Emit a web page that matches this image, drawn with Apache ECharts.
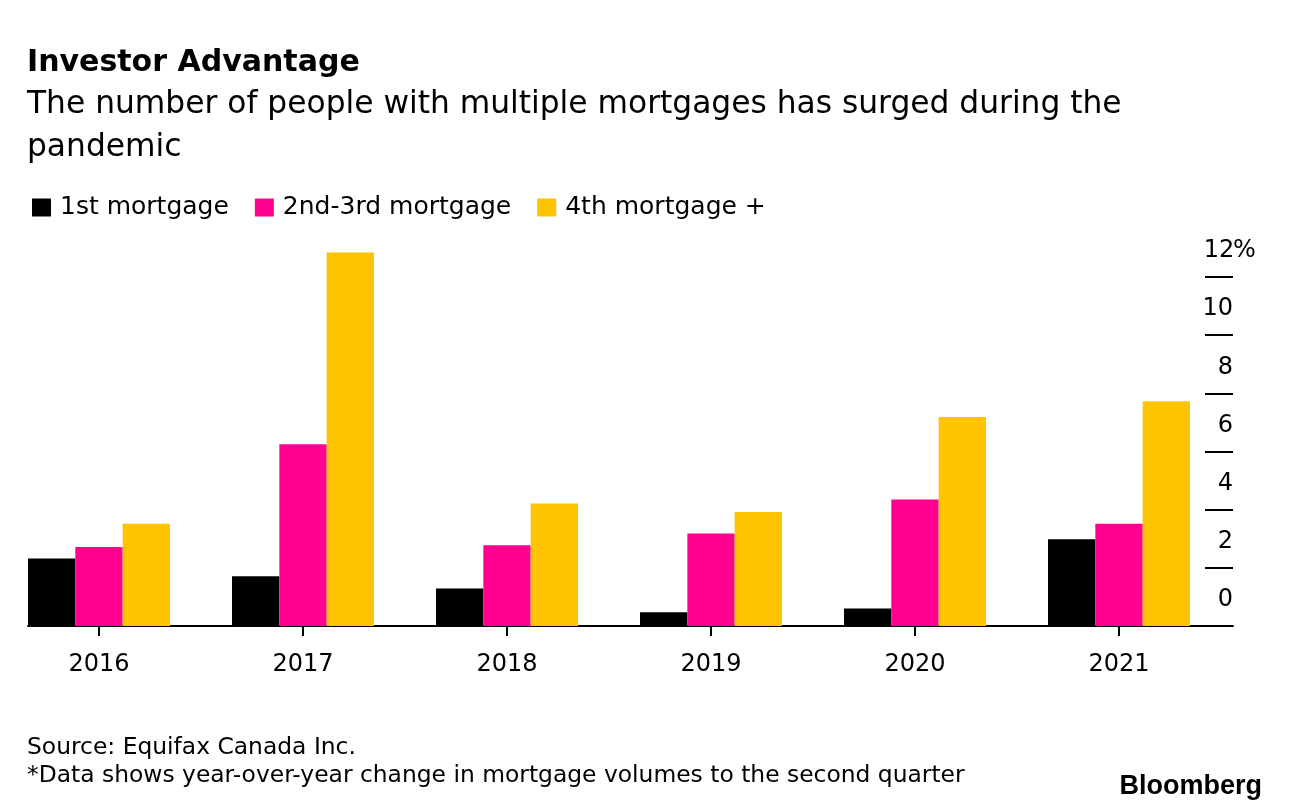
<!DOCTYPE html>
<html>
<head>
<meta charset="utf-8">
<style>
  html, body { margin: 0; padding: 0; background: #fff; }
  #chart { width: 1289px; height: 812px; }
</style>
<script src="https://cdn.jsdelivr.net/npm/echarts@6/dist/echarts.min.js"></script>
</head>
<body>
<div id="chart"></div>
<script>
const categories = ['2016', '2017', '2018', '2019', '2020', '2021'];
const firstMortgage = [2.32, 1.71, 1.29, 0.47, 0.60, 2.98];
const secondThirdMortgage = [2.72, 6.25, 2.78, 3.18, 4.35, 3.52];
const fourthPlusMortgage = [3.52, 12.84, 4.21, 3.92, 7.19, 7.73];
const seriesNames = ['1st mortgage', '2nd-3rd mortgage', '4th mortgage +'];
const yTickValues = [0, 2, 4, 6, 8, 10, 12];

const FONT = 'DejaVu Sans';
const colors = ['#000000', '#ff0090', '#ffc300'];

const chart = echarts.init(document.getElementById('chart'), null, { renderer: 'canvas' });

const option = {
  backgroundColor: '#ffffff',
  animation: false,
  color: colors,
  title: [
    {
      text: 'Investor Advantage',
      left: 27, top: 48,
      textStyle: { fontFamily: FONT, fontWeight: 'bold', fontSize: 30, color: '#000' },
      padding: 0
    },
    {
      text: 'The number of people with multiple mortgages has surged during the\npandemic',
      left: 27, top: 83,
      textStyle: { fontFamily: FONT, fontWeight: 'normal', fontSize: 31.3, lineHeight: 43, color: '#000' },
      padding: 0
    },
    {
      text: 'Source: Equifax Canada Inc.\n*Data shows year-over-year change in mortgage volumes to the second quarter',
      left: 27, top: 734,
      textStyle: { fontFamily: FONT, fontWeight: 'normal', fontSize: 23.4, lineHeight: 28, color: '#000' },
      padding: 0
    },
    {
      text: 'Bloomberg',
      right: 27, top: 773,
      textStyle: { fontFamily: 'Liberation Sans', fontWeight: 'bold', fontSize: 27, color: '#000' },
      padding: 0
    }
  ],
  legend: {
    data: seriesNames,
    left: 32, top: 195,
    padding: 0,
    icon: 'rect',
    itemWidth: 19, itemHeight: 18,
    itemGap: 26,
    textStyle: { fontFamily: FONT, fontSize: 25, color: '#000', padding: [0, 0, 0, 4] }
  },
  grid: [
    { left: -3, width: 1224, top: 277, bottom: 186, outerBoundsMode: 'none', containLabel: false },
    { left: 28, right: 56, top: 277, bottom: 186, outerBoundsMode: 'none', containLabel: false },
    { left: 1205, width: 28, top: 277, bottom: 186, outerBoundsMode: 'none', containLabel: false }
  ],
  xAxis: [
    {
      type: 'category', gridIndex: 0, data: categories,
      axisLine: { show: false },
      axisTick: { show: true, alignWithLabel: true, length: 10, lineStyle: { color: '#000', width: 2 } },
      axisLabel: { fontFamily: FONT, fontSize: 24, color: '#000', margin: 27 },
      splitLine: { show: false }
    },
    {
      type: 'value', gridIndex: 1, min: 0, max: 1,
      axisLine: { show: true, onZero: false, lineStyle: { color: '#000', width: 2 } },
      axisTick: { show: false }, axisLabel: { show: false }, splitLine: { show: false }
    },
    {
      type: 'value', gridIndex: 2, min: 0, max: 1, show: false
    }
  ],
  yAxis: [
    {
      type: 'value', gridIndex: 0, min: 0, max: 12, interval: 2, show: false,
      splitLine: { show: false }
    },
    {
      type: 'value', gridIndex: 1, min: 0, max: 12, interval: 2, show: false,
      splitLine: { show: false }
    },
    {
      type: 'value', gridIndex: 2, position: 'right', min: 0, max: 12, interval: 2,
      axisLine: { show: false },
      axisTick: { show: false },
      splitLine: { show: true, lineStyle: { color: '#000', width: 2 } },
      axisLabel: {
        margin: -28,
        align: 'left',
        verticalAlign: 'middle',
        padding: [0, 0, 52, 0],
        fontFamily: FONT, fontSize: 24, color: '#000',
        formatter: function (v) {
          return '{n|' + v + '}' + (v === 12 ? '{p|%}' : '');
        },
        rich: {
          n: { width: 28, align: 'right', fontFamily: FONT, fontSize: 24, color: '#000' },
          p: { fontFamily: FONT, fontSize: 24, color: '#000' }
        }
      }
    }
  ],
  series: [
    { name: seriesNames[0], type: 'bar', xAxisIndex: 0, yAxisIndex: 0, data: firstMortgage, barGap: '0%', barCategoryGap: '30.4%', clip: false, itemStyle: { color: colors[0] } },
    { name: seriesNames[1], type: 'bar', xAxisIndex: 0, yAxisIndex: 0, data: secondThirdMortgage, barGap: '0%', barCategoryGap: '30.4%', clip: false, itemStyle: { color: colors[1] } },
    { name: seriesNames[2], type: 'bar', xAxisIndex: 0, yAxisIndex: 0, data: fourthPlusMortgage, barGap: '0%', barCategoryGap: '30.4%', clip: false, itemStyle: { color: colors[2] } }
  ]
};

chart.setOption(option);
</script>
</body>
</html>
